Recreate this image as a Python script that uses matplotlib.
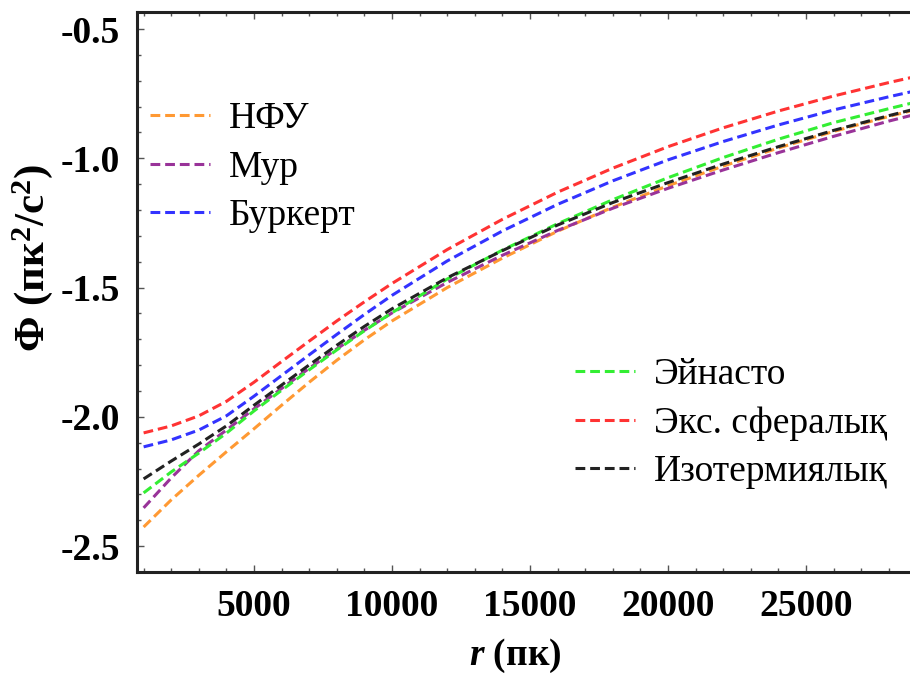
import matplotlib
matplotlib.use("Agg")
import matplotlib.pyplot as plt
from matplotlib.ticker import MultipleLocator, FormatStrFormatter

plt.rcParams['font.family'] = ['Liberation Serif', 'DejaVu Serif']
plt.rcParams['axes.unicode_minus'] = False
plt.rcParams['mathtext.fontset'] = 'custom'
plt.rcParams['mathtext.it'] = 'Liberation Serif:italic:bold'
plt.rcParams['mathtext.rm'] = 'Liberation Serif:bold'

# radius grid (pc)
r = [1000, 2000, 3000, 4000, 5000, 6000, 7000, 8000, 9000, 10000,
     12000, 14000, 16000, 18000, 20000, 22000, 24000, 26000, 28000, 29000]

# potential of each halo model (pc^2/s^2, scaled)
phi_nfw = [-2.426, -2.321, -2.226, -2.135, -2.046, -1.955, -1.866, -1.781, -1.702, -1.629,
           -1.500, -1.386, -1.282, -1.189, -1.106, -1.030, -0.960, -0.896, -0.838, -0.811]
phi_moore = [-2.352, -2.236, -2.131, -2.051, -1.969, -1.890, -1.812, -1.737, -1.665, -1.598,
             -1.480, -1.375, -1.279, -1.193, -1.116, -1.045, -0.978, -0.915, -0.856, -0.829]
phi_burkert = [-2.116, -2.089, -2.051, -1.996, -1.920, -1.840, -1.760, -1.681, -1.604, -1.530,
               -1.397, -1.281, -1.178, -1.087, -1.006, -0.935, -0.871, -0.813, -0.762, -0.738]
phi_einasto = [-2.294, -2.213, -2.140, -2.063, -1.977, -1.897, -1.818, -1.741, -1.667, -1.597,
               -1.467, -1.355, -1.253, -1.160, -1.075, -0.997, -0.926, -0.862, -0.808, -0.782]
phi_expsph = [-2.062, -2.035, -1.996, -1.940, -1.866, -1.786, -1.707, -1.629, -1.555, -1.484,
              -1.353, -1.236, -1.131, -1.038, -0.955, -0.882, -0.817, -0.759, -0.707, -0.683]
phi_iso = [-2.240, -2.171, -2.105, -2.035, -1.955, -1.877, -1.799, -1.723, -1.650, -1.582,
           -1.462, -1.357, -1.258, -1.171, -1.094, -1.022, -0.955, -0.892, -0.835, -0.808]

fig = plt.figure(figsize=(9.1, 6.75), dpi=100)
ax = fig.add_axes([137 / 910, 103 / 675, 773 / 910, 560 / 675])

style = dict(lw=2.2, dashes=(3.2, 1.6))
h_nfw, = ax.plot(r, phi_nfw, color='#ff9933', label='НФУ', **style)
h_moore, = ax.plot(r, phi_moore, color='#993399', label='Мур', **style)
h_burk, = ax.plot(r, phi_burkert, color='#3333ff', label='Буркерт', **style)
h_ein, = ax.plot(r, phi_einasto, color='#33ee33', label='Эйнасто', **style)
h_exp, = ax.plot(r, phi_expsph, color='#ff3333', label='Экс. сфералық', **style)
h_iso, = ax.plot(r, phi_iso, color='#222222', label='Изотермиялық', **style)

ax.set_xlim(760, 28770)
ax.set_ylim(-2.60, -0.434)

ax.xaxis.set_major_locator(MultipleLocator(5000))
ax.xaxis.set_minor_locator(MultipleLocator(1000))
ax.yaxis.set_major_locator(MultipleLocator(0.5))
ax.yaxis.set_minor_locator(MultipleLocator(0.1))
ax.yaxis.set_major_formatter(FormatStrFormatter('%.1f'))

ax.tick_params(which='both', direction='in', top=True, right=False,
               color='#555555', width=1)
ax.tick_params(which='major', length=5)
ax.tick_params(which='minor', length=3)
ax.tick_params(axis='x', which='major', pad=12)
ax.tick_params(axis='y', which='major', pad=12)
for lab in ax.get_xticklabels() + ax.get_yticklabels():
    lab.set_fontsize(27)
    lab.set_fontweight('bold')

for side in ('left', 'top', 'bottom'):
    ax.spines[side].set_linewidth(2.2)
    ax.spines[side].set_color('#222222')
ax.spines['right'].set_visible(False)

fig.text(515 / 910, 1 - 656 / 675, r'$r$ (пк)', fontsize=27, fontweight='bold',
         ha='center', va='center')
fig.text(33 / 910, 1 - 258 / 675, r'Φ (пк$^2$/с$^2$)', fontsize=31, fontweight='bold',
         rotation=90, ha='center', va='center')

leg_kw = dict(frameon=False, fontsize=27, handlelength=1.6, handletextpad=0.5,
              labelspacing=0.37, borderpad=0, borderaxespad=0,
              bbox_transform=fig.transFigure, loc='upper left')
leg1 = ax.legend(handles=[h_nfw, h_moore, h_burk], bbox_to_anchor=(150 / 910, 1 - 102 / 675), **leg_kw)
ax.add_artist(leg1)
ax.legend(handles=[h_ein, h_exp, h_iso], bbox_to_anchor=(575 / 910, 1 - 358 / 675), **leg_kw)

fig.savefig('out.png', dpi=100)
